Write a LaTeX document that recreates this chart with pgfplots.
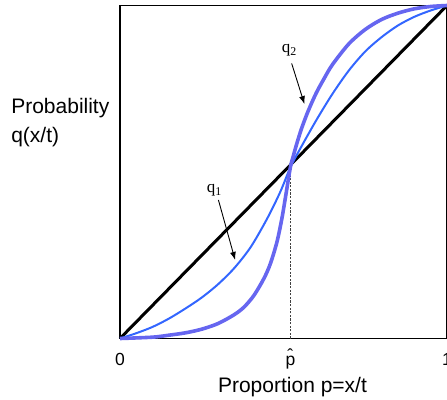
\documentclass[border=0pt]{standalone}
\usepackage{fontspec}
\setmainfont{Liberation Sans}
\newfontfamily\seriffont{Liberation Serif}
\usepackage{pgfplots}
\pgfplotsset{compat=1.18}
\usetikzlibrary{arrows.meta}
\definecolor{qtwo}{RGB}{102,102,240}
\definecolor{qone}{RGB}{51,102,255}
\newcommand{\phat}{\ooalign{p\cr\hidewidth\raisebox{3.2pt}{\char"02C6}\hidewidth\cr}}
\begin{document}
\begin{tikzpicture}
\begin{axis}[
  at={(0,0)}, anchor=origin,
  width=327pt, height=333pt, scale only axis,
  xmin=0, xmax=1, ymin=0, ymax=1,
  axis line style={line width=1.1pt},
  xtick={0,0.521,1}, xticklabels={0,\phat,1},
  ytick=\empty, major tick length=0pt,
  xticklabel style={anchor=base, yshift=-26.5pt, font=\fontsize{17.5}{20}\selectfont},
  xlabel={Proportion p=x/t},
  xlabel style={at={(axis description cs:0.5275,0)}, anchor=base, yshift=-53.5pt, font=\fontsize{21}{25}\selectfont},
  clip=false,
]
\addplot[black, line width=3pt] coordinates {(0,0) (1,1)};
\addplot[black!75, line width=1.1pt, dash pattern=on 2.2pt off 1.4pt] coordinates {(0.521,0) (0.521,0.514)};
\addplot[qone, line width=2pt, smooth] coordinates {
(0,0) (0.05,0.016) (0.10,0.035) (0.15,0.060) (0.20,0.090) (0.25,0.123) (0.30,0.163)
(0.35,0.212) (0.40,0.275) (0.45,0.360) (0.49,0.440) (0.521,0.514)
(0.55,0.568) (0.60,0.655) (0.65,0.735) (0.70,0.805) (0.75,0.862) (0.80,0.905)
(0.85,0.940) (0.90,0.966) (0.95,0.985) (1,1)};
\addplot[qtwo, line width=3.6pt, smooth] coordinates {
(0,0) (0.10,0.004) (0.15,0.010) (0.20,0.017) (0.25,0.028) (0.30,0.045) (0.35,0.072)
(0.38,0.095) (0.41,0.130) (0.44,0.180) (0.46,0.225) (0.48,0.290) (0.495,0.360)
(0.507,0.430) (0.521,0.514) (0.53,0.548) (0.54,0.583) (0.555,0.630) (0.575,0.682)
(0.60,0.737) (0.625,0.782) (0.65,0.823) (0.70,0.885) (0.75,0.928) (0.80,0.958)
(0.85,0.977) (0.90,0.990) (0.95,0.997) (1,1)};
\draw[line width=0.9pt, -{Latex[length=8pt,width=6pt]}] (axis cs:0.525,0.826) -- (axis cs:0.564,0.704);
\draw[line width=0.9pt, -{Latex[length=8pt,width=6pt]}] (axis cs:0.301,0.416) -- (axis cs:0.352,0.236);
\node[anchor=base west, inner sep=0pt, font=\seriffont\fontsize{17}{20}\selectfont] at (axis cs:0.4945,0.859) {q\textsubscript{2}};
\node[anchor=base west, inner sep=0pt, font=\seriffont\fontsize{17}{20}\selectfont] at (axis cs:0.265,0.438) {q\textsubscript{1}};
\node[anchor=base west, inner sep=0pt, font=\fontsize{21}{25}\selectfont] at (axis description cs:-0.333,0.677) {Probability};
\node[anchor=base west, inner sep=0pt, font=\fontsize{21}{25}\selectfont] at (axis description cs:-0.333,0.5886) {q(x/t)};
\end{axis}
\pgfresetboundingbox
\path[use as bounding box] (-120pt,-60.5pt) rectangle (327pt,338.5pt);
\end{tikzpicture}
\end{document}
